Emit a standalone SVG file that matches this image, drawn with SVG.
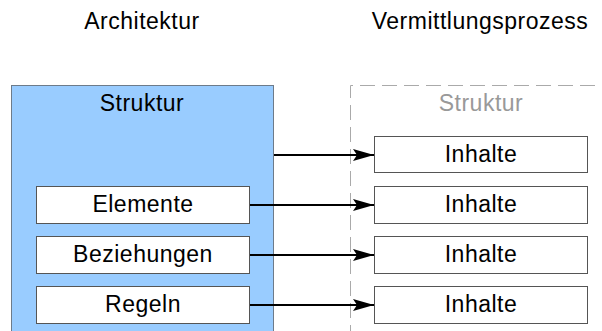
<svg xmlns="http://www.w3.org/2000/svg" width="602" height="331" viewBox="0 0 602 331">
<style>
text{font-family:"Liberation Sans",Arial,sans-serif;font-size:23px;letter-spacing:0.5px;fill:#000;text-anchor:middle}
.box{fill:#fff;stroke:#555;stroke-width:1}
.dash{fill:none;stroke:#aaa;stroke-width:1;stroke-dasharray:15 7}
.con{stroke:#000;stroke-width:2;fill:none;marker-end:url(#ah)}
</style>
<defs>
<marker id="ah" markerUnits="userSpaceOnUse" markerWidth="22" markerHeight="14" refX="21" refY="7" orient="auto">
<path d="M0,1 L21,7 L0,13 L4,7 Z" fill="#000"/>
</marker>
</defs>
<g id="title-architektur"><text x="142" y="29">Architektur</text></g>
<g id="title-vermittlung"><text x="480" y="29">Vermittlungsprozess</text></g>
<g id="architektur">
<rect x="11.5" y="85.5" width="262" height="260" fill="#99ccff" stroke="#6d7b8a" stroke-width="1"/>
<text x="142" y="111">Struktur</text>
</g>
<g id="vermittlung">
<path class="dash" d="M350.5,340 V85.5 H610"/>
<text x="481" y="111" style="fill:#999">Struktur</text>
</g>
<g id="elemente"><rect class="box" x="36.5" y="186.5" width="213" height="37"/><text x="143" y="212">Elemente</text></g>
<g id="beziehungen"><rect class="box" x="36.5" y="236.5" width="213" height="37"/><text x="143" y="262">Beziehungen</text></g>
<g id="regeln"><rect class="box" x="36.5" y="286.5" width="213" height="37"/><text x="143" y="312">Regeln</text></g>
<g id="inhalte1"><rect class="box" x="374.5" y="136.5" width="213" height="36"/><text x="481" y="162">Inhalte</text></g>
<g id="inhalte2"><rect class="box" x="374.5" y="186.5" width="213" height="37"/><text x="481" y="212">Inhalte</text></g>
<g id="inhalte3"><rect class="box" x="374.5" y="236.5" width="213" height="37"/><text x="481" y="262">Inhalte</text></g>
<g id="inhalte4"><rect class="box" x="374.5" y="286.5" width="213" height="37"/><text x="481" y="312">Inhalte</text></g>
<g id="connectors">
<line class="con" x1="274" y1="155" x2="374" y2="155"/>
<line class="con" x1="250" y1="205" x2="374" y2="205"/>
<line class="con" x1="250" y1="255" x2="374" y2="255"/>
<line class="con" x1="250" y1="305" x2="374" y2="305"/>
</g>
</svg>
